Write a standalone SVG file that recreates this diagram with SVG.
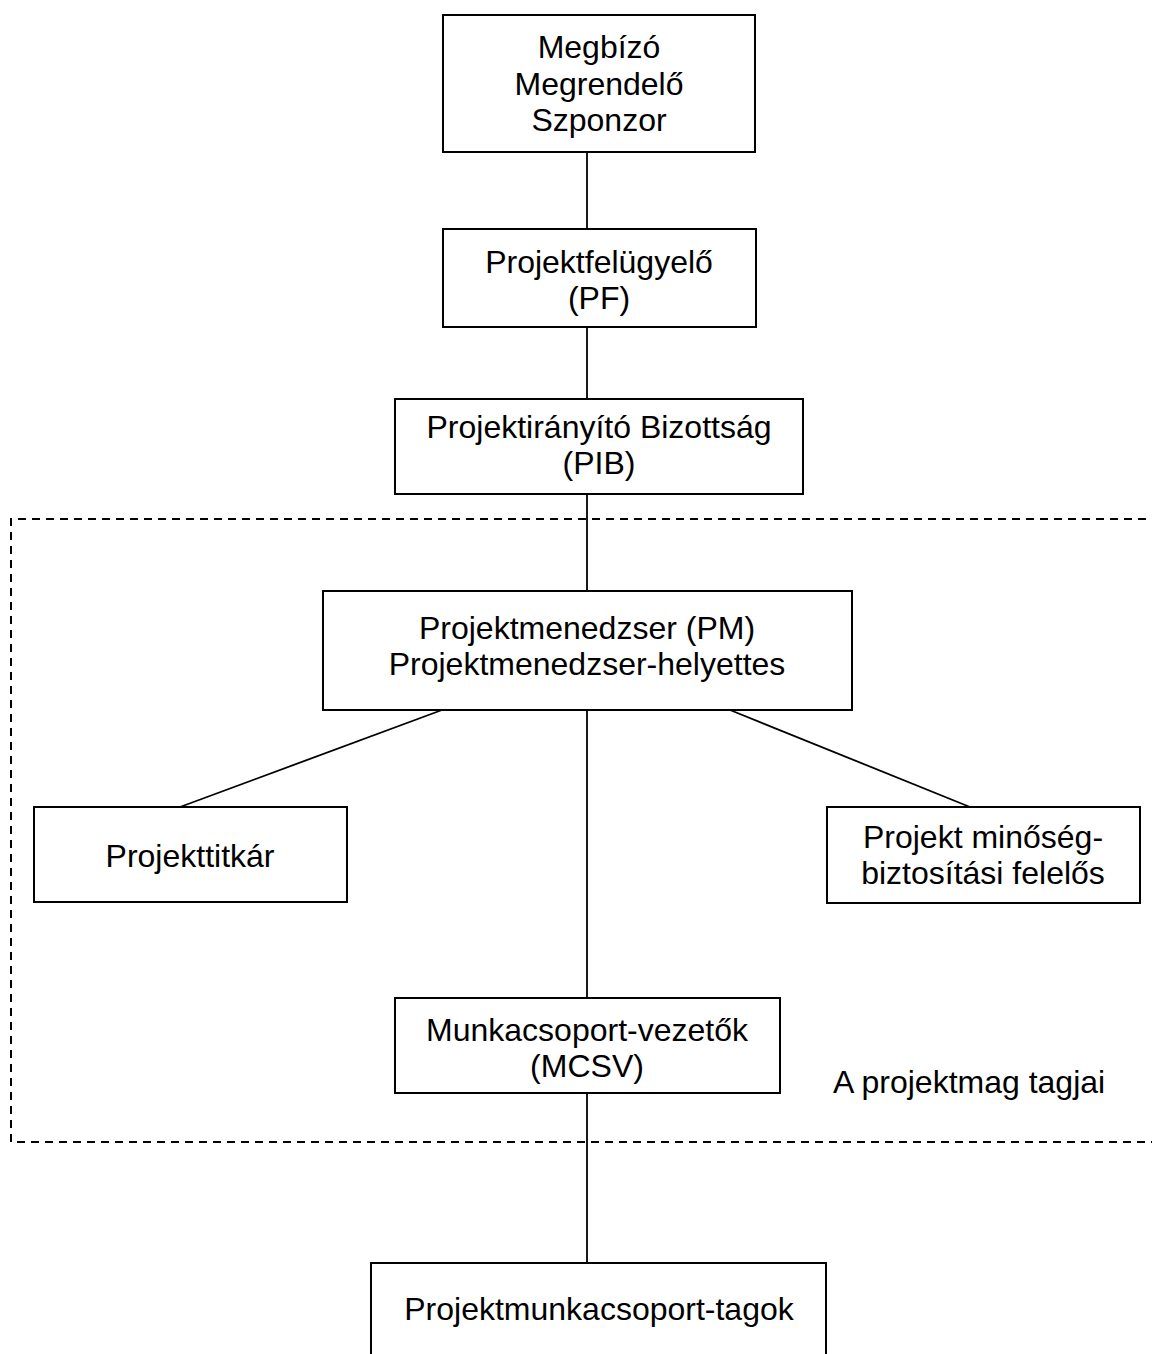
<svg xmlns="http://www.w3.org/2000/svg" width="1152" height="1354" viewBox="0 0 1152 1354">
<style>
.box{fill:#fff;stroke:#000;stroke-width:2}
.ln{stroke:#000;stroke-width:1.8;fill:none}
.dash{stroke:#000;stroke-width:2;fill:none;stroke-dasharray:8 6}
text{font-family:"Liberation Sans",Arial,sans-serif;font-size:32px;fill:#000;text-anchor:middle}
</style>
<rect width="1152" height="1354" fill="#fff"/>
<g id="group-core">
<path class="dash" d="M1160,519 H11 V1142 H1160"/>
<text x="833" y="1093" style="text-anchor:start">A projektmag tagjai</text>
</g>
<g id="connectors">
<line class="ln" x1="587" y1="152" x2="587" y2="229"/>
<line class="ln" x1="587" y1="327" x2="587" y2="399"/>
<line class="ln" x1="587" y1="494" x2="587" y2="591"/>
<line class="ln" x1="587" y1="710" x2="587" y2="998"/>
<line class="ln" x1="442" y1="710" x2="180" y2="807"/>
<line class="ln" x1="730" y1="710" x2="970" y2="807"/>
<line class="ln" x1="587" y1="1093" x2="587" y2="1263"/>
</g>
<g id="n-megbizo">
<rect class="box" x="443" y="15" width="312" height="137"/>
<text x="599" y="58">Megbízó</text>
<text x="599" y="95">Megrendelő</text>
<text x="599" y="131">Szponzor</text>
</g>
<g id="n-pf">
<rect class="box" x="443" y="229" width="313" height="98"/>
<text x="599" y="273">Projektfelügyelő</text>
<text x="599" y="309">(PF)</text>
</g>
<g id="n-pib">
<rect class="box" x="395" y="399" width="408" height="95"/>
<text x="599" y="438">Projektirányító Bizottság</text>
<text x="599" y="474">(PIB)</text>
</g>
<g id="n-pm">
<rect class="box" x="323" y="591" width="529" height="119"/>
<text x="587" y="639">Projektmenedzser (PM)</text>
<text x="587" y="675">Projektmenedzser-helyettes</text>
</g>
<g id="n-titkar">
<rect class="box" x="34" y="807" width="313" height="95"/>
<text x="190" y="867">Projekttitkár</text>
</g>
<g id="n-minoseg">
<rect class="box" x="827" y="807" width="313" height="96"/>
<text x="983" y="848">Projekt minőség-</text>
<text x="983" y="884">biztosítási felelős</text>
</g>
<g id="n-mcsv">
<rect class="box" x="395" y="998" width="385" height="95"/>
<text x="587" y="1041">Munkacsoport-vezetők</text>
<text x="587" y="1077">(MCSV)</text>
</g>
<g id="n-tagok">
<rect class="box" x="371" y="1263" width="455" height="110"/>
<text x="599" y="1320">Projektmunkacsoport-tagok</text>
</g>
</svg>
